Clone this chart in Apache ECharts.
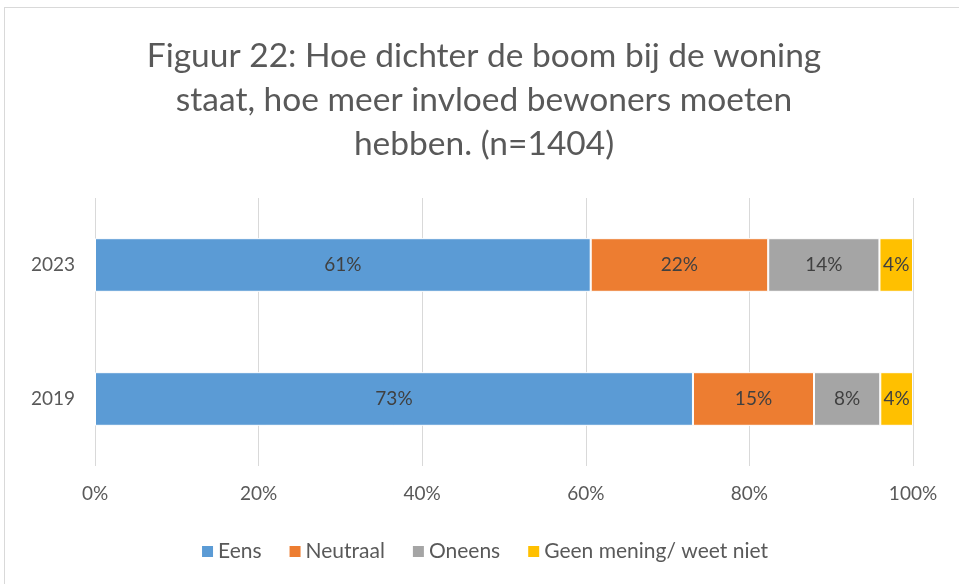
<!DOCTYPE html>
<html>
<head>
<meta charset="utf-8">
<script src="https://cdn.jsdelivr.net/npm/echarts@6/dist/echarts.min.js"></script>
<style>
  html, body { margin: 0; padding: 0; background: #fff; }
  #chart { position: absolute; left: 4px; top: 7px; width: 960px; height: 580px;
           border: 1px solid #d9d9d9; box-sizing: border-box; }
</style>
</head>
<body>
<div id="chart"></div>
<script>
// categories and values (percentages)
const years = ['2019', '2023'];
const eens = [73.1, 60.6];
const neutraal = [14.8, 21.7];
const oneens = [8.1, 13.6];
const geenMening = [4.0, 4.1];
const seriesNames = ['Eens', 'Neutraal', 'Oneens', 'Geen mening/ weet niet'];
const colors = ['#5B9BD5', '#ED7D31', '#A5A5A5', '#FFC000'];

const font = 'Lato, "Open Sans", sans-serif';
const chart = echarts.init(document.getElementById('chart'));

const dataSets = [eens, neutraal, oneens, geenMening];
const series = dataSets.map((d, i) => ({
  name: seriesNames[i],
  type: 'bar',
  stack: 'total',
  barWidth: '40%',
  data: d,
  itemStyle: { color: colors[i], borderColor: '#fff', borderWidth: 1 },
  label: {
    show: true,
    position: 'inside',
    color: '#404040',
    fontFamily: font,
    fontSize: 19,
    formatter: p => Math.round(p.value) + '%'
  }
}));

chart.setOption({
  animation: false,
  title: {
    text: 'Figuur 22: Hoe dichter de boom bij de woning\nstaat, hoe meer invloed bewoners moeten\nhebben. (n=1404)',
    left: 'center',
    top: 21,
    textStyle: { fontFamily: font, fontSize: 33.5, fontWeight: 'normal', color: '#595959', lineHeight: 44 }
  },
  legend: {
    bottom: 19,
    left: 'center',
    itemWidth: 13,
    itemHeight: 13,
    itemGap: 26,
    icon: 'rect',
    textStyle: { fontFamily: font, fontSize: 21, color: '#595959', padding: [0, 0, 0, -1] },
    data: seriesNames
  },
  grid: { left: 90, right: 50, top: 190, bottom: 120 },
  xAxis: {
    type: 'value',
    min: 0,
    max: 100,
    interval: 20,
    axisLabel: { formatter: '{value}%', fontFamily: font, fontSize: 19, color: '#595959', margin: 18 },
    splitLine: { lineStyle: { color: '#d9d9d9', width: 1 } },
    axisLine: { show: false },
    axisTick: { show: false }
  },
  yAxis: {
    type: 'category',
    data: years,
    axisLabel: { fontFamily: font, fontSize: 19, color: '#595959', margin: 20 },
    axisLine: { show: false },
    axisTick: { show: false }
  },
  series: series
});
</script>
</body>
</html>
